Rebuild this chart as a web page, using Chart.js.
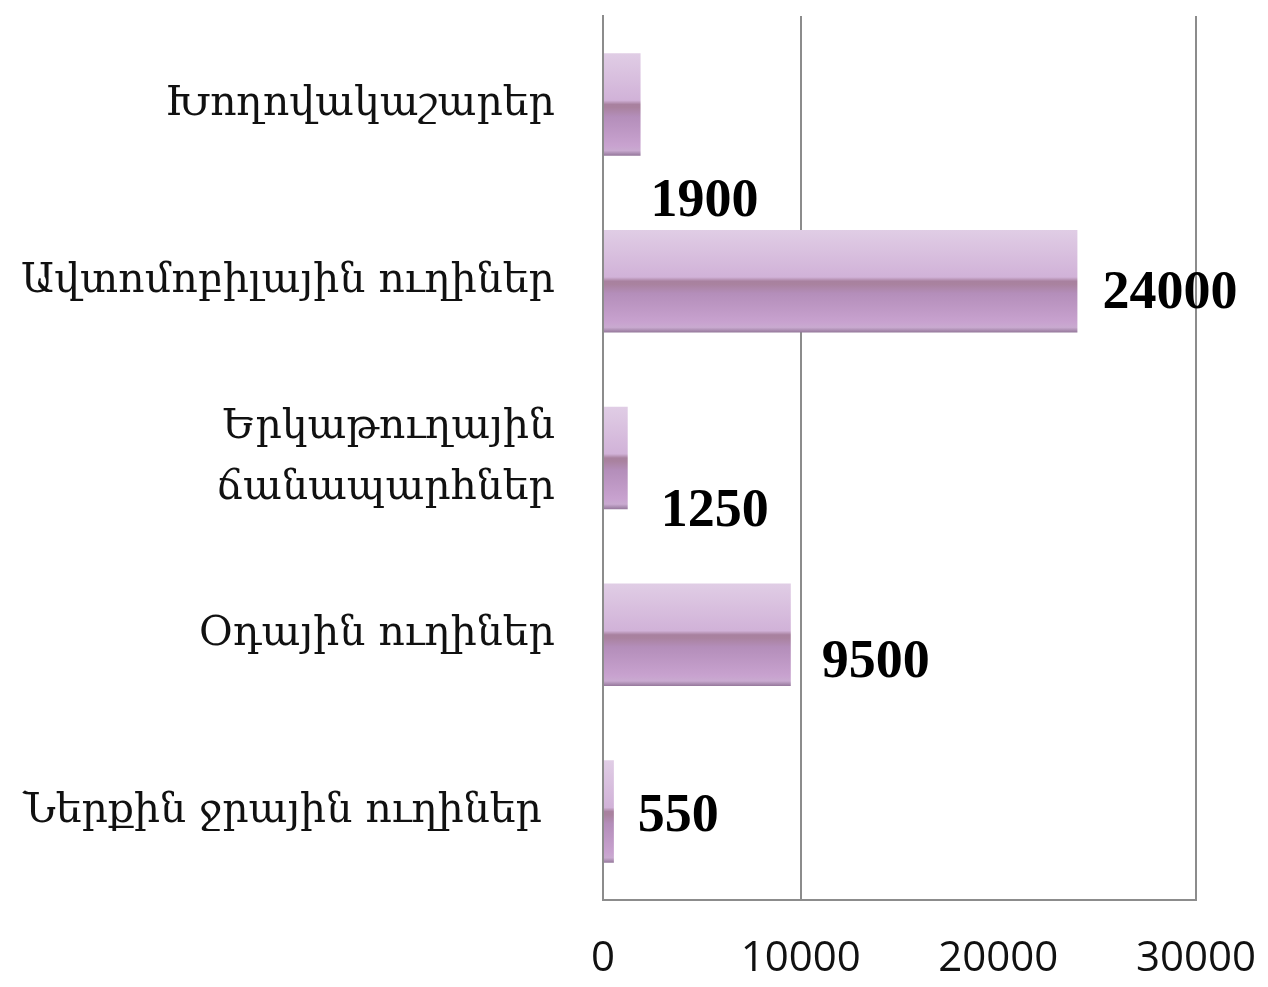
<!DOCTYPE html>
<html>
<head>
<meta charset="utf-8">
<script src="https://cdn.jsdelivr.net/npm/chart.js@4.4.1/dist/chart.umd.min.js"></script>
<style>
  html, body { margin: 0; padding: 0; background: #ffffff; }
  #wrap { width: 1268px; height: 987px; position: relative; }
</style>
</head>
<body>
<div id="wrap"><canvas id="c" width="1268" height="987"></canvas></div>
<script>
// ---- data ----
const categories = [
  'Խողովակաշարեր',
  'Ավտոմոբիլային ուղիներ',
  ['Երկաթուղային', 'ճանապարհներ'],
  'Օդային ուղիներ',
  'Ներքին ջրային ուղիներ '
];
const values = [1900, 24000, 1250, 9500, 550];
const valueLabels = ['1900', '24000', '1250', '9500', '550'];
const xTicks = [0, 10000, 20000, 30000];

// ---- style (label offsets relative to bar end / bar centre, px) ----
const labelOffsets = [[10, 98], [25, 13], [33, 54], [31, 28], [24, 5]];

const gradientPlugin = {
  id: 'barGradient',
  beforeDatasetsDraw(chart) {
    const ctx = chart.ctx;
    chart.getDatasetMeta(0).data.forEach(el => {
      const top = el.y - el.height / 2, bot = el.y + el.height / 2;
      const g = ctx.createLinearGradient(0, top, 0, bot);
      g.addColorStop(0.00, '#e0cde5');
      g.addColorStop(0.46, '#d1b2d8');
      g.addColorStop(0.50, '#a8819f');
      g.addColorStop(0.53, '#a9829f');
      g.addColorStop(0.62, '#b48eba');
      g.addColorStop(0.90, '#c8a2cf');
      g.addColorStop(0.95, '#c9aad0');
      g.addColorStop(1.00, '#94779a');
      el.options = Object.assign({}, el.options, { backgroundColor: g });
    });
  }
};

const valueLabelPlugin = {
  id: 'valueLabels',
  afterDatasetsDraw(chart) {
    const ctx = chart.ctx;
    ctx.save();
    ctx.font = 'bold 54px "Liberation Serif", "Times New Roman", serif';
    ctx.fillStyle = '#000000';
    ctx.textAlign = 'left';
    ctx.textBaseline = 'middle';
    chart.getDatasetMeta(0).data.forEach((el, i) => {
      const off = labelOffsets[i];
      ctx.fillText(valueLabels[i], el.x + off[0], el.y + off[1]);
    });
    ctx.restore();
  }
};

new Chart(document.getElementById('c'), {
  type: 'bar',
  data: {
    labels: categories,
    datasets: [{
      data: values,
      backgroundColor: '#c4a2cc',
      borderWidth: 0,
      barPercentage: 0.58,
      categoryPercentage: 1.0
    }]
  },
  options: {
    indexAxis: 'y',
    responsive: false,
    animation: false,
    devicePixelRatio: 1,
    layout: { padding: { top: 16, right: 72, left: 0, bottom: 0 } },
    plugins: { legend: { display: false }, tooltip: { enabled: false } },
    scales: {
      x: {
        min: 0,
        max: 30000,
        afterBuildTicks(scale) { scale.ticks = xTicks.map(v => ({ value: v })); },
        afterFit(scale) {
          scale.height = 87;
          scale.paddingLeft = 0; scale.paddingRight = 0;
        },
        grid: {
          drawTicks: false,
          lineWidth: 2,
          color: ctx => (ctx.tick && ctx.tick.value === 20000) ? 'rgba(0,0,0,0)' : '#8c8c8c'
        },
        border: { display: true, color: '#8c8c8c', width: 2 },
        ticks: {
          padding: 34,
          color: '#111111',
          font: { family: '"Open Sans", sans-serif', size: 42 },
          maxRotation: 0,
          callback: v => String(v)
        }
      },
      y: {
        afterFit(scale) {
          scale.width = 603;
          scale.paddingTop = 0; scale.paddingBottom = 0;
        },
        grid: { display: false, drawTicks: false },
        border: { display: true, color: '#8c8c8c', width: 2 },
        ticks: {
          padding: 48,
          color: '#111111',
          font: { family: '"DejaVu Serif", serif', size: 41, lineHeight: 1.5 }
        }
      }
    }
  },
  plugins: [gradientPlugin, valueLabelPlugin]
});
</script>
</body>
</html>
